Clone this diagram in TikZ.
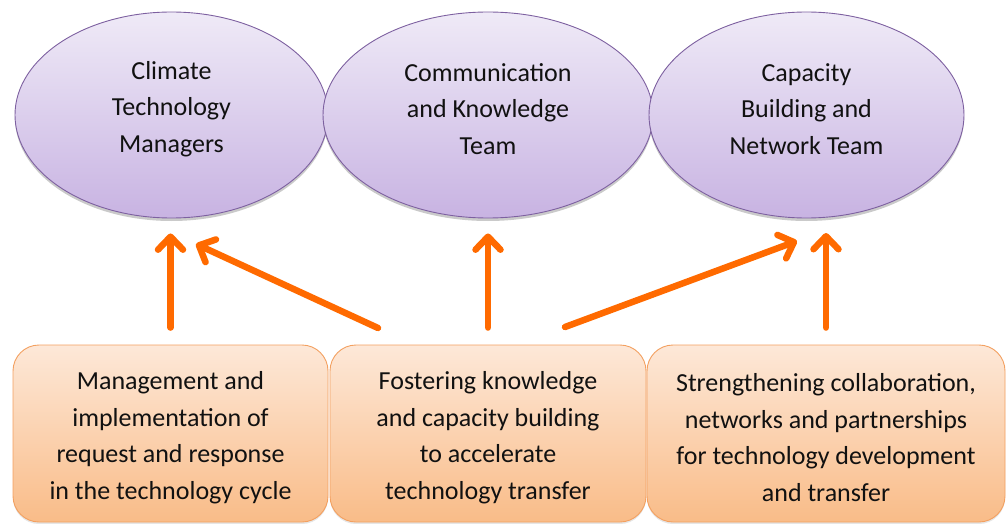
\documentclass[tikz,border=0pt]{standalone}
\usepackage{fontspec}
\setmainfont{Carlito}
\usetikzlibrary{shapes.geometric,arrows.meta,shadows}
\definecolor{ellTop}{HTML}{EFEAF7}
\definecolor{ellBot}{HTML}{C8B3E2}
\definecolor{ellLine}{HTML}{7D60A0}
\definecolor{boxTop}{HTML}{FDE8D8}
\definecolor{boxBot}{HTML}{F9BC88}
\definecolor{boxLine}{HTML}{F3A060}
\definecolor{arrCol}{HTML}{FF6A00}
\definecolor{txt}{HTML}{111111}
\tikzset{
  ell/.style={ellipse, draw=ellLine, line width=0.9pt, inner sep=0pt,
    top color=ellTop, bottom color=ellBot,
    drop shadow={opacity=0.35, shadow xshift=0pt, shadow yshift=-3pt, fill=black!60}},
  boxn/.style={rectangle, rounded corners=26pt, draw=boxLine, line width=0.9pt, inner sep=0pt,
    top color=boxTop, bottom color=boxBot,
    drop shadow={opacity=0.2, shadow xshift=0pt, shadow yshift=-2pt, fill=black!50}},
  lbl/.style={font=\fontsize{26}{36.5}\selectfont, text=txt, align=center},
  arr/.style={draw=arrCol, line width=6.5pt, line cap=round,
    -{Straight Barb[length=13pt,width=25pt,round]}},
}
\begin{document}
\begin{tikzpicture}[x=1pt,y=-1pt]
\useasboundingbox (0,0) rectangle (1006,524);
% ellipses
\node[ell, minimum width=313pt, minimum height=206pt,
  label={[lbl, yshift=6pt]center:{Climate\\Technology\\Managers}}] (e1) at (171.5,115) {};
\node[ell, minimum width=330pt, minimum height=206pt,
  label={[lbl, yshift=6pt]center:{Communication\\and Knowledge\\Team}}] (e2) at (488,115) {};
\node[ell, minimum width=315pt, minimum height=206pt,
  label={[lbl, yshift=6pt]center:{Capacity\\Building and\\Network Team}}] (e3) at (806.5,115) {};
% boxes
\node[boxn, minimum width=315pt, minimum height=177pt,
  label={[lbl, yshift=-4pt]center:{Management and\\implementation of\\request and response\\in the technology cycle}}] (b1) at (170.5,433.5) {};
\node[boxn, minimum width=316pt, minimum height=177pt,
  label={[lbl, yshift=-4pt]center:{Fostering knowledge\\and capacity building\\to accelerate\\technology transfer}}] (b2) at (488,433.5) {};
\node[boxn, minimum width=358pt, minimum height=177pt,
  label={[lbl, yshift=-4pt]center:{Strengthening collaboration,\\networks and partnerships\\for technology development\\and transfer}}] (b3) at (826,433.5) {};
% free ends of connectors
\coordinate (d1s) at (378,328);
\coordinate (d1e) at (196,244);
\coordinate (d2s) at (565,327);
\coordinate (d2e) at (797,241);
\coordinate (v3e) at (826,233);
% connectors
\draw[arr, shorten <=17pt, shorten >=15pt] (b1.north) -- (b1.north |- e1.south);
\draw[arr, shorten <=17pt, shorten >=15pt] (b2.north) -- (e2.south);
\draw[arr, shorten <=17pt] (b3.north) -- (v3e);
\draw[arr] (d1s) -- (d1e);
\draw[arr] (d2s) -- (d2e);
\end{tikzpicture}
\end{document}
